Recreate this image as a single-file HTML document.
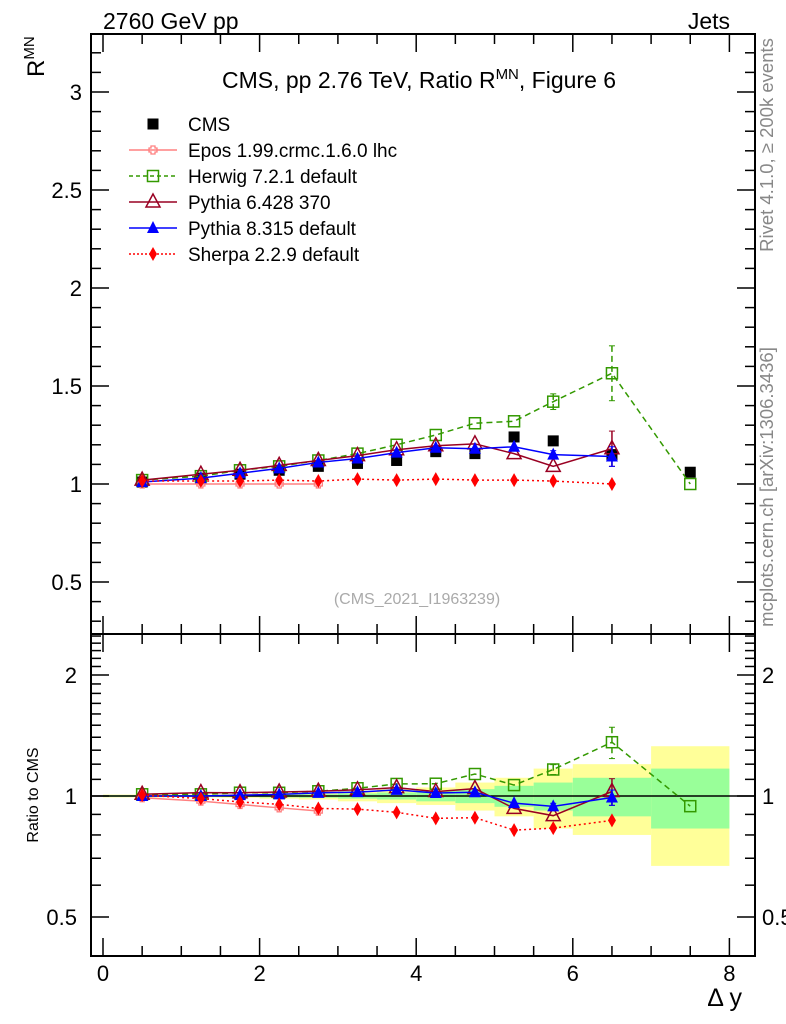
<!DOCTYPE html>
<html><head><meta charset="utf-8"><style>
body{margin:0;background:#fff;}
svg{display:block;font-family:"Liberation Sans",Arial,sans-serif;}
</style></head><body>
<svg id="chart" width="786" height="1024" viewBox="0 0 786 1024">
<text x="103" y="29" font-size="23">2760 GeV pp</text>
<text x="730" y="29" font-size="23" text-anchor="end">Jets</text>
<text x="419" y="88" font-size="23" text-anchor="middle">CMS, pp 2.76 TeV, Ratio R<tspan dy="-9" font-size="15">MN</tspan><tspan dy="9">, Figure 6</tspan></text>
<text transform="translate(44,77) rotate(-90)" font-size="24">R<tspan dy="-10" font-size="15">MN</tspan></text>
<text transform="translate(38,795) rotate(-90)" font-size="16" text-anchor="middle">Ratio to CMS</text>
<text x="742" y="1006" font-size="25" text-anchor="end">Δ y</text>
<text transform="translate(773,145) rotate(-90)" font-size="18.5" fill="#888" text-anchor="middle">Rivet 4.1.0, ≥ 200k events</text>
<text transform="translate(773,487) rotate(-90)" font-size="18.5" fill="#888" text-anchor="middle">mcplots.cern.ch [arXiv:1306.3436]</text>
<text x="417" y="604" font-size="16" fill="#aaa" text-anchor="middle">(CMS_2021_I1963239)</text>
<g id="bands"></g><g id="axes"></g><g id="marks"></g><g id="legend"></g>
</svg>
<script>
const xs = [0.5,1.25,1.75,2.25,2.75,3.25,3.75,4.25,4.75,5.25,5.75,6.5,7.5];
const binLo = [0,1,1.5,2,2.5,3,3.5,4,4.5,5,5.5,6,7];
const binHi = [1,1.5,2,2.5,3,3.5,4,4.5,5,5.5,6,7,8];
const cmsVals = [1.01,1.03,1.05,1.07,1.09,1.105,1.12,1.165,1.155,1.24,1.22,1.15,1.06];
const statErr = [0.005,0.005,0.005,0.008,0.01,0.015,0.02,0.03,0.04,0.06,0.08,0.11,0.17];
const totErr = [0.008,0.008,0.01,0.015,0.02,0.03,0.04,0.05,0.08,0.11,0.17,0.2,0.33];
const eposVals = [1.0,1.0,1.0,1.0,1.0];
const herwigVals = [1.02,1.04,1.07,1.09,1.12,1.155,1.2,1.25,1.31,1.32,1.42,1.565,1.0];
const herwigErr = [0,0,0,0,0,0,0,0,0,0,0.04,0.14,0];
const py6Vals = [1.02,1.05,1.07,1.095,1.12,1.145,1.175,1.195,1.205,1.155,1.09,1.18];
const py6Err = [0,0,0,0,0,0,0,0,0,0,0,0.09];
const py8Vals = [1.01,1.03,1.055,1.08,1.11,1.13,1.16,1.185,1.18,1.19,1.15,1.14];
const py8Err = [0,0,0,0,0,0,0,0,0,0,0.02,0.05];
const sherpaVals = [1.015,1.015,1.015,1.02,1.015,1.025,1.02,1.025,1.02,1.02,1.015,1.0];
const xTicks = [0,2,4,6,8];
const mainTicks = [0.5,1,1.5,2,2.5,3];
const ratioTicks = [0.5,1,2];

const NS="http://www.w3.org/2000/svg";
const L=91,R=755,T=34,MID=634,B=956;
const X=v=>103+78.3*v;
const Y=v=>484-196*(v-1);
const YR=v=>796-121*Math.log2(v);
function mk(tag,attrs,parent){const e=document.createElementNS(NS,tag);for(const k in attrs)e.setAttribute(k,attrs[k]);parent.appendChild(e);return e;}
const bands=document.getElementById('bands'),axes=document.getElementById('axes'),marks=document.getElementById('marks'),leg=document.getElementById('legend');

for(let i=0;i<binLo.length;i++){
  const y1=mk('rect',{x:X(binLo[i]),width:X(binHi[i])-X(binLo[i]),y:YR(1+totErr[i]),height:YR(1-totErr[i])-YR(1+totErr[i]),fill:'#ffff99'},bands);
  
  
  const g=mk('rect',{x:X(binLo[i]),width:X(binHi[i])-X(binLo[i]),y:YR(1+statErr[i]),height:YR(1-statErr[i])-YR(1+statErr[i]),fill:'#99ff99'},bands);
  
  
}
const f1=mk('rect',{x:L,y:T,width:R-L,height:MID-T,fill:'none',stroke:'#000','stroke-width':2},axes);


const f2=mk('rect',{x:L,y:MID,width:R-L,height:B-MID,fill:'none',stroke:'#000','stroke-width':2},axes);


const one=mk('line',{x1:L,x2:R,y1:YR(1),y2:YR(1),stroke:'#000','stroke-width':1.5},axes);


for(let v=0;v<=8.001;v+=0.5){
  const maj=Math.abs(v-Math.round(v/2)*2)<1e-6, len=maj?18:10;
  for(const [y0,d] of [[T,1],[MID,-1],[MID,1],[B,-1]]){
    mk('line',{x1:X(v),x2:X(v),y1:y0,y2:y0+d*len,stroke:'#000','stroke-width':1.5},axes);
  }
}
xTicks.forEach(v=>{const t=mk('text',{x:X(v),y:981,'font-size':22,'text-anchor':'middle'},axes);t.textContent=v;

});
for(let v=0.3;v<=3.25;v+=0.1){
  const y=Y(v); if(y<T||y>MID)continue;
  const maj=Math.abs(v*2-Math.round(v*2))<1e-6, len=maj?18:10;
  mk('line',{x1:L,x2:L+len,y1:y,y2:y,stroke:'#000','stroke-width':1.5},axes);
  mk('line',{x1:R,x2:R-len,y1:y,y2:y,stroke:'#000','stroke-width':1.5},axes);
}
mainTicks.forEach(v=>{const t=mk('text',{x:82,y:Y(v)+8,'font-size':22,'text-anchor':'end'},axes);t.textContent=v;

});
const rt=[0.4,0.5,0.6,0.7,0.8,0.9,1,1.1,1.2,1.3,1.4,1.5,1.6,1.7,1.8,1.9,2,2.1,2.2,2.3,2.4,2.5];
rt.forEach(v=>{const y=YR(v); if(y<MID||y>B)return;
  const len=ratioTicks.includes(v)?18:10;
  mk('line',{x1:L,x2:L+len,y1:y,y2:y,stroke:'#000','stroke-width':1.5},axes);
  mk('line',{x1:R,x2:R-len,y1:y,y2:y,stroke:'#000','stroke-width':1.5},axes);});
ratioTicks.forEach(v=>{
  const t=mk('text',{x:77,y:YR(v)+8,'font-size':22,'text-anchor':'end'},axes);t.textContent=v;
  
  
  const t2=mk('text',{x:762,y:YR(v)+8,'font-size':22},axes);t2.textContent=v;
  
  });

function marker(type,x,y,color,parent){
  let e;
  if(type==='sq') e=mk('rect',{x:x-5.5,y:y-5.5,width:11,height:11,fill:color},parent);
  else if(type==='osq') e=mk('rect',{x:x-5.5,y:y-5.5,width:11,height:11,fill:'#fff','fill-opacity':0,stroke:color,'stroke-width':1.5},parent);
  else if(type==='cross') e=mk('path',{d:`M${x-2},${y-4}h4v2h2v4h-2v2h-4v-2h-2v-4h2z`,fill:'none',stroke:color,'stroke-width':1.3},parent);
  else if(type==='otri') e=mk('path',{d:`M${x},${y-8}L${x+7},${y+5}L${x-7},${y+5}Z`,fill:'none',stroke:color,'stroke-width':1.5},parent);
  else if(type==='tri') e=mk('path',{d:`M${x},${y-7}L${x+6},${y+5}L${x-6},${y+5}Z`,fill:color},parent);
  else if(type==='dia') e=mk('path',{d:`M${x},${y-7}L${x+4},${y}L${x},${y+7}L${x-4},${y}Z`,fill:color},parent);
  return e;
}
const series=[
 {name:'epos',vals:eposVals,err:[],color:'#ff8080',dash:'',m:'cross'},
 {name:'herwig',vals:herwigVals,err:herwigErr,color:'#339900',dash:'6,4',m:'osq'},
 {name:'pythia6',vals:py6Vals,err:py6Err,color:'#990022',dash:'',m:'otri'},
 {name:'pythia8',vals:py8Vals,err:py8Err,color:'#0000ff',dash:'',m:'tri'},
 {name:'sherpa',vals:sherpaVals,err:[],color:'#ff0000',dash:'2,3',m:'dia'}];
function drawSeries(s,yf,ratio){
  const g=mk('g',{},marks);
  
  
  const pts=s.vals.map((v,i)=>[X(xs[i]),yf(ratio?v/cmsVals[i]:v)]);
  mk('polyline',{points:pts.map(p=>p.join(',')).join(' '),fill:'none',stroke:s.color,'stroke-width':1.5,'stroke-dasharray':s.dash},g);
  s.vals.forEach((v,i)=>{
    const e=s.err[i]||0;
    if(e>0){const d=ratio?cmsVals[i]:1;
      mk('line',{x1:pts[i][0],x2:pts[i][0],y1:yf((v+e)/d),y2:yf((v-e)/d),stroke:s.color,'stroke-width':1.5,'stroke-dasharray':s.dash},g);
      mk('line',{x1:pts[i][0]-3,x2:pts[i][0]+3,y1:yf((v+e)/d),y2:yf((v+e)/d),stroke:s.color},g);
      mk('line',{x1:pts[i][0]-3,x2:pts[i][0]+3,y1:yf((v-e)/d),y2:yf((v-e)/d),stroke:s.color},g);}
    const m=marker(s.m,pts[i][0],pts[i][1],s.color,g);
    
    
  });
}
cmsVals.forEach((v,i)=>{const m=marker('sq',X(xs[i]),Y(v),'#000',marks);
  
  });
series.forEach(s=>drawSeries(s,Y,false));
series.forEach(s=>drawSeries(s,YR,true));

const legItems=[['CMS','#000','','sq'],['Epos 1.99.crmc.1.6.0 lhc','#ff8080','','cross'],['Herwig 7.2.1 default','#339900','4,3','osq'],['Pythia 6.428 370','#990022','','otri'],['Pythia 8.315 default','#0000ff','','tri'],['Sherpa 2.2.9 default','#ff0000','2,2','dia']];
legItems.forEach((it,i)=>{
  const y=124+i*26;
  const g=mk('g',{},leg);
  
  
  if(i>0) mk('line',{x1:129,x2:177,y1:y,y2:y,stroke:it[1],'stroke-width':1.5,'stroke-dasharray':it[2]},g);
  marker(it[3],153,y,it[1],g);
  const t=mk('text',{x:188,y:y+7,'font-size':19},g);t.textContent=it[0];
});
</script>
</body></html>
